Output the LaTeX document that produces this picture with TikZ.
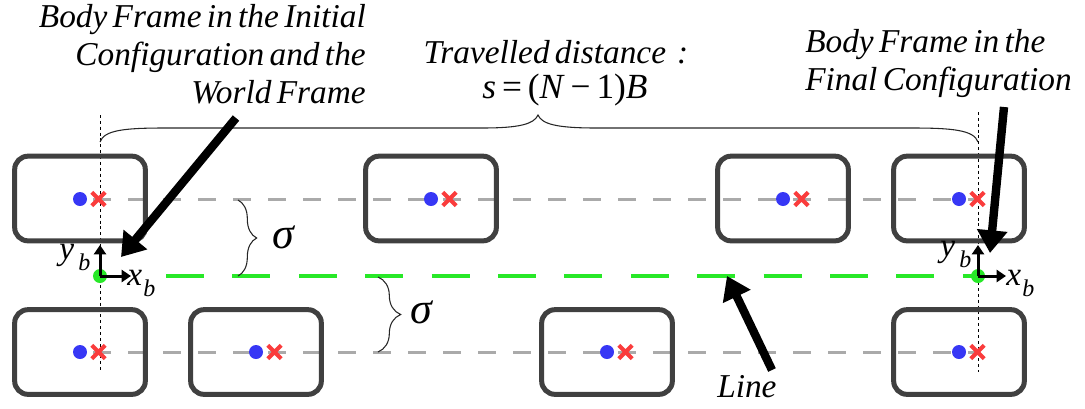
\documentclass[tikz,border=0pt]{standalone}
\usepackage{fontspec}
\setmainfont{Liberation Serif}
\newfontfamily\tnr{Liberation Serif}
\newcommand\tightsp{\spaceskip=0.16em plus 0.05em minus 0.02em\relax}
\usetikzlibrary{arrows.meta,decorations.pathreplacing,shapes.misc}
\definecolor{boxgray}{RGB}{64,64,64}
\definecolor{dotblue}{RGB}{55,55,245}
\definecolor{xred}{RGB}{250,60,60}
\definecolor{linegreen}{RGB}{40,232,40}
\definecolor{lightgray}{RGB}{170,170,170}
\begin{document}
\begin{tikzpicture}[x=0.75pt,y=-0.75pt,
  carbox/.style={draw=boxgray,line width=3.75pt,rounded corners=10pt,minimum width=98pt,minimum height=63.5pt,inner sep=0pt},
  bluedot/.style={circle,fill=dotblue,minimum size=10.5pt,inner sep=0pt},
  greendot/.style={circle,fill=linegreen,minimum size=10.5pt,inner sep=0pt},
  redx/.style={cross out,draw=xred,line width=3pt,minimum size=7pt,inner sep=0pt},
  grayline/.style={draw=lightgray,line width=2.25pt,dash pattern=on 13.5pt off 12.75pt},
  greenline/.style={draw=linegreen,line width=3pt,dash pattern=on 28.5pt off 21.3pt},
  refline/.style={draw=black,line width=0.7pt,dash pattern=on 2.2pt off 2.2pt},
  bigarrow/.style={draw=black,line width=6.3pt,-{Triangle[length=17pt,width=22pt]}},
  axis/.style={draw=black,line width=2.25pt,-{Triangle[length=7pt,width=9pt]}},
  bracepath/.style={draw=black!85,line width=0.8pt},
  sbrace/.style={draw=black!85,line width=0.8pt,decorate,decoration={brace,amplitude=#1}},
  lbl/.style={font=\tnr\fontsize{25}{28.5}\selectfont\itshape\tightsp,inner sep=0pt},
  sub/.style={font=\tnr\fontsize{18}{18}\selectfont\itshape,inner sep=0pt},
  mlbl/.style={font=\tnr\fontsize{26.5}{28}\selectfont,inner sep=0pt},
  sig/.style={font=\tnr\fontsize{33}{33}\selectfont\itshape,inner sep=0pt},
]
\useasboundingbox (0,0) rectangle (1085,408);

% reference (dotted) lines
\coordinate (vl1) at (100,115); \coordinate (vl2) at (100,372);
\coordinate (vr1) at (978,112); \coordinate (vr2) at (978,372);
\draw[refline] (vl1) -- (vl2);
\draw[refline] (vr1) -- (vr2);

% gray centre lines
\coordinate (ga1) at (93,199); \coordinate (ga2) at (976,199);
\coordinate (gb1) at (93,352); \coordinate (gb2) at (976,352);
\draw[grayline] (ga1) -- (ga2);
\draw[grayline] (gb1) -- (gb2);

% green line
\coordinate (gl1) at (166,276); \coordinate (gl2) at (978,276);
\draw[greenline] (gl1) -- (gl2);

% boxes, top row
\foreach \n/\cx in {t1/80,t2/431,t3/783,t4/959}{
  \node[carbox] (\n) at (\cx,198.5) {};
  \node[bluedot] (\n d) at (\cx,199) {};
  \node[redx] (\n x) at (\cx+18.5,199) {};
}
% boxes, bottom row
\foreach \n/\cx in {b1/80,b2/256,b3/607,b4/959}{
  \node[carbox] (\n) at (\cx,352) {};
  \node[bluedot] (\n d) at (\cx,352) {};
  \node[redx] (\n x) at (\cx+18.5,352) {};
}

% body frames
\node[greendot] (o1) at (100,276) {};
\node[greendot] (o2) at (978,276) {};
\coordinate (o1y) at (100,245); \coordinate (o1x) at (131,276);
\coordinate (o2y) at (978,245); \coordinate (o2x) at (1006,276);
\draw[axis] (o1.center) -- (o1y);
\draw[axis] (o1.center) -- (o1x);
\draw[axis] (o2.center) -- (o2y);
\draw[axis] (o2.center) -- (o2x);
\node[lbl,anchor=base west] (yb1) at (59,259) {y};
\node[sub,anchor=base west] (yb1s) at (78,270) {b};
\node[lbl,anchor=base west] (xb1) at (127,285) {x};
\node[sub,anchor=base west] (xb1s) at (143,296) {b};
\node[lbl,anchor=base west] (yb2) at (940,256) {y};
\node[sub,anchor=base west] (yb2s) at (959,267) {b};
\node[lbl,anchor=base west] (xb2) at (1006,285) {x};
\node[sub,anchor=base west] (xb2s) at (1022,296) {b};

% top brace
\coordinate (br1) at (100,142); \coordinate (br2) at (978,142); \coordinate (brt) at (538,115);
\draw[bracepath] (br1) .. controls (104,130) and (125,128) .. (165,128) -- (482,128)
  .. controls (520,128) and (534,124) .. (brt)
  .. controls (542,124) and (556,128) .. (596,128) -- (912,128)
  .. controls (952,128) and (974,130) .. (br2);

% sigma braces
\coordinate (s1a) at (238,200); \coordinate (s1b) at (238,276);
\coordinate (s2a) at (378,277); \coordinate (s2b) at (378,352);
\draw[sbrace=14pt] (s1a) -- (s1b);
\draw[sbrace=17pt] (s2a) -- (s2b);
\node[sig] (sig1) at (283,237) {σ};
\node[sig] (sig2) at (421,312) {σ};

% labels
\node[lbl,align=right,anchor=base east] (lab1) at (366,103)
  {Body Frame in the Initial\\Configuration and the\\World Frame};
\node[lbl,anchor=base] (lab2) at (556,63) {Travelled distance\,\,:};
\node[mlbl,anchor=base] (lab2b) at (565,98) {\textit{s}\,=\,(\textit{N}\,−\,1)\textit{B}};
\node[lbl,align=left,anchor=base west] (lab3) at (805,90)
  {Body Frame in the\\Final Configuration};
\node[lbl,anchor=base west] (lab4) at (717,397) {Line};

% pointer arrows
\coordinate (a1s) at (236,118); \coordinate (a1e) at (121,257);
\coordinate (a2s) at (1004,107); \coordinate (a2e) at (990,253);
\coordinate (a3s) at (772,370); \coordinate (a3e) at (727,276);
\draw[bigarrow] (a1s) -- (a1e);
\draw[bigarrow] (a2s) -- (a2e);
\draw[bigarrow] (a3s) -- (a3e);
\end{tikzpicture}
\end{document}
